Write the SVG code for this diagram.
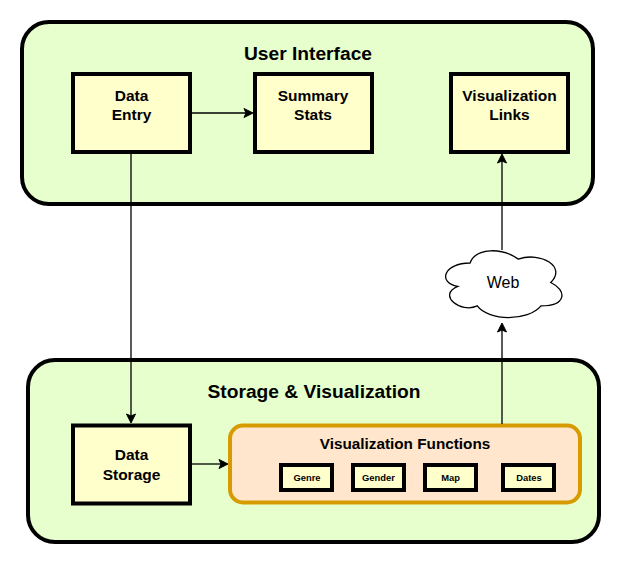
<svg xmlns="http://www.w3.org/2000/svg" width="622" height="564" viewBox="0 0 622 564">
<style>
text{font-family:"Liberation Sans",Arial,sans-serif;font-weight:bold;fill:#000;text-anchor:middle}
.group{fill:#e6ffcc;stroke:#000;stroke-width:4}
.box{fill:#ffffcc;stroke:#000;stroke-width:4}
.small{fill:#ffffcc;stroke:#000;stroke-width:4}
.t1{font-size:19.200px}.t2{font-size:15.500px}.t3{font-size:9.400px}
.conn{fill:none;stroke:#000;stroke-width:1.300}
.head{fill:#000;stroke:#000;stroke-width:1}
</style>
<rect width="622" height="564" fill="#fff"/>
<g id="user-interface"><rect class="group" x="22" y="22" width="571" height="182" rx="27" ry="27"/><text class="t1" x="308" y="60">User Interface</text></g>
<g id="storage-visualization"><rect class="group" x="28" y="360" width="571" height="182" rx="27" ry="27"/><text class="t1" x="314" y="398">Storage &amp; Visualization</text></g>
<g id="data-entry"><rect class="box" x="73" y="74" width="117" height="78"/><text class="t2" x="131.500" y="100.500">Data</text><text class="t2" x="131.500" y="119.500">Entry</text></g>
<g id="summary-stats"><rect class="box" x="255" y="74" width="117" height="78"/><text class="t2" x="313" y="100.500">Summary</text><text class="t2" x="313" y="119.500">Stats</text></g>
<g id="visualization-links"><rect class="box" x="451" y="74" width="117" height="78"/><text class="t2" x="509.500" y="100.500">Visualization</text><text class="t2" x="509.500" y="119.500">Links</text></g>
<g id="data-storage"><rect class="box" x="73" y="425.500" width="117" height="78"/><text class="t2" x="131.500" y="460">Data</text><text class="t2" x="131.500" y="479.500">Storage</text></g>
<g id="visualization-functions"><rect x="230" y="425.500" width="350" height="77" rx="13" ry="13" fill="#ffe6cc" stroke="#d79b00" stroke-width="4"/><text x="405" y="448.500" font-size="15.300px">Visualization Functions</text></g>
<g id="genre"><rect class="small" x="281" y="465" width="51" height="25"/><text class="t3" x="307" y="481">Genre</text></g>
<g id="gender"><rect class="small" x="353" y="465" width="51" height="25"/><text class="t3" x="378.500" y="481">Gender</text></g>
<g id="map"><rect class="small" x="425" y="465" width="51" height="25"/><text class="t3" x="450.500" y="481">Map</text></g>
<g id="dates"><rect class="small" x="503" y="465" width="51" height="25"/><text class="t3" x="529" y="481">Dates</text></g>
<g id="web"><path d="M470 263C444 263 437 282.500 457.800 286.400C437 295 460.400 313.700 477.300 305.900C489 321.500 528 321.500 541 305.900C567 305.900 567 290.300 550.750 282.500C567 266.900 541 251.300 518.250 259.100C502 247.400 476 247.400 470 263Z" fill="#fff" stroke="#000" stroke-width="1.300"/><text x="503" y="288" font-size="16px" style="font-weight:normal">Web</text></g>
<g id="connectors">
<path class="conn" d="M191 113H247"/><path class="head" d="M253 113L244 108.500L246 113L244 117.500Z"/>
<path class="conn" d="M131 153V417"/><path class="head" d="M131 423L126.500 414L131 416L135.500 414Z"/>
<path class="conn" d="M191 464H222"/><path class="head" d="M228 464L219 459.500L221 464L219 468.500Z"/>
<path class="conn" d="M502 424V330"/><path class="head" d="M502 323L497.500 332L502 330L506.500 332Z"/>
<path class="conn" d="M502 250V160"/><path class="head" d="M502 154L497.500 163L502 161L506.500 163Z"/>
</g>
</svg>
